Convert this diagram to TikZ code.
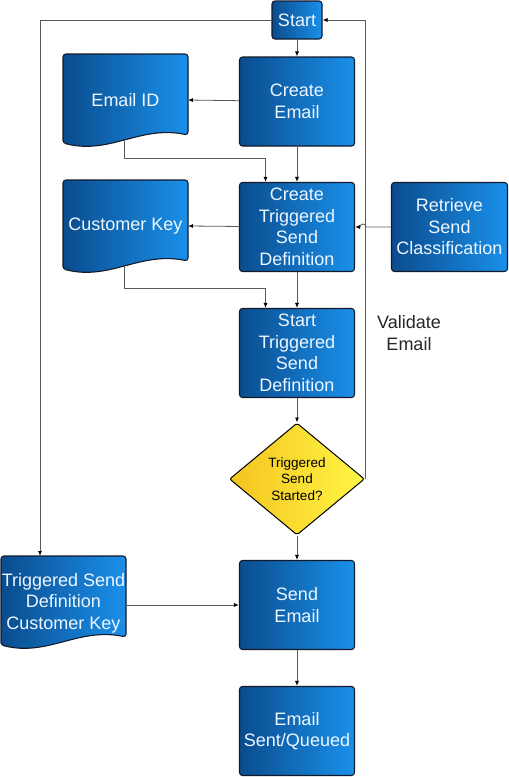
\documentclass[tikz,border=0pt]{standalone}
\usepackage{fontspec}
\setmainfont{Liberation Sans}
\usetikzlibrary{positioning,shapes.geometric,arrows.meta}
\definecolor{boxL}{HTML}{0A4C8E}
\definecolor{boxR}{HTML}{1A90EA}
\definecolor{boxline}{HTML}{15192A}
\definecolor{boxtext}{HTML}{EEF6FF}
\definecolor{diaL}{HTML}{F4C31E}
\definecolor{diaR}{HTML}{FFF645}
\definecolor{wire}{HTML}{5A5A5A}

\tikzset{
  box/.style={rectangle,rounded corners=3pt,draw=boxline,line width=1.1pt,
    left color=boxL,right color=boxR,text=boxtext,align=center,inner sep=1pt,
    minimum width=115pt,minimum height=89pt,font=\fontsize{18}{21.5}\selectfont},
  docbody/.style={rounded corners=3pt,draw=boxline,line width=1.1pt,
    left color=boxL,right color=boxR},
  doctext/.style={text=boxtext,align=center,inner sep=1pt,
    font=\fontsize{18}{21.5}\selectfont},
  decision/.style={diamond,rounded corners=2pt,draw=black,line width=1pt,
    left color=diaL,right color=diaR,align=center,inner sep=0pt,
    minimum width=135pt,minimum height=112pt,font=\fontsize{13.5}{16.5}\selectfont},
  link/.style={draw=wire,line width=0.8pt,-{Latex[length=5pt,width=4pt,color=black]}}
}

% document symbol: left edge, top edge
\newcommand{\docshape}[2]{%
  \shade[docbody] (#1,#2+89) -- (#1,#2) -- (#1+125,#2) -- (#1+125,#2+81)
    .. controls (#1+77,#2+71) and (#1+47,#2+101) .. (#1,#2+89) -- cycle;}

\begin{document}
\begin{tikzpicture}[x=1pt,y=-1pt,on grid]
   \useasboundingbox (0,0) rectangle (509,777);

   % main column
   \node[box,minimum width=50pt,minimum height=38pt] (start) at (297,20) {Start};
   \node[box] (createemail) [below=81.5pt of start] {Create\\Email};
   \node[box] (createtsd) [below=125.5pt of createemail] {Create\\Triggered\\Send\\Definition};
   \node[box,minimum width=116pt] (retrieve) [right=152.5pt of createtsd] {Retrieve\\Send\\Classification};
   \node[box] (starttsd) [below=126pt of createtsd] {Start\\Triggered\\Send\\Definition};
   \node[decision] (check) [below=126pt of starttsd] {Triggered\\Send\\Started?};
   \node[box] (sendemail) [below=126pt of check] {Send\\Email};
   \node[box] (sent) [below=126pt of sendemail] {Email\\Sent/Queued};

   % documents
   \docshape{63}{54}
   \node[doctext] (emailid) at (125.5,100) {Email ID};
   \docshape{63}{180}
   \node[doctext] (custkey) at (125.5,226) {Customer Key};
   \docshape{1}{556}
   \node[doctext] (tsdck) at (63.5,603) {Triggered Send\\Definition\\Customer Key};

   \coordinate (idout) at (124,140);
   \coordinate (keyout) at (124,266);
   \coordinate (ckin) at (40,556);
   \coordinate (ckout) at (126,605);
   \coordinate (jump) at (363,227);

   \node[align=center,text=black!85,font=\fontsize{18}{21.5}\selectfont]
     (validate) at (409,333) {Validate\\Email};

   \path[link]
    (start) -- (createemail);
   \draw[link] (createemail) -- (emailid.east -| 188,0);
   \draw[link] (createemail) -- (createtsd);
   \draw[link] (idout) -- ++(0,18) -| ([xshift=-31.5pt]createtsd.north);
   \draw[link] (createtsd) -- (custkey.east -| 188,0);
   \draw[link] (retrieve.west) -- ([xshift=3pt]jump)
      arc[start angle=0,end angle=180,radius=3pt] -- (createtsd.east);
   \draw[link] (keyout) -- ++(0,22) -| ([xshift=-31.5pt]starttsd.north);
   \draw[link] (createtsd) -- (starttsd);
   \draw[link] (starttsd) -- (check);
   \draw[link] (check.east) |- (start.east);
   \draw[link] (start.west) -| (ckin);
   \draw[link] (check) -- (sendemail);
   \draw[link] (ckout) -- (sendemail.west);
   \draw[link] (sendemail) -- (sent);
\end{tikzpicture}
\end{document}
